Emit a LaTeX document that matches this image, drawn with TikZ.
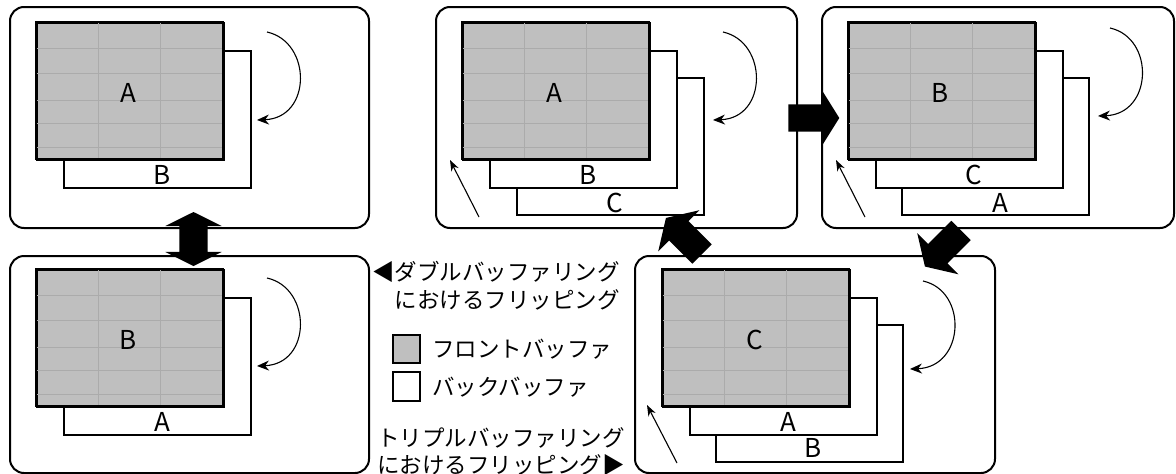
\documentclass[tikz,border=0pt]{standalone}
\usepackage{fontspec}
\setmainfont{Noto Sans CJK JP}
\usetikzlibrary{arrows.meta,shapes.arrows}
\tikzset{
  panel/.style={draw, line width=2pt, rounded corners=14pt, inner sep=0pt},
  frontbuf/.style={draw, line width=2pt, fill=black!25, minimum width=187pt, minimum height=137pt, inner sep=0pt, anchor=north west},
  backbuf/.style={draw, line width=2pt, fill=white, minimum width=187pt, minimum height=137pt, inner sep=0pt, anchor=north west},
  lbl/.style={font=\fontsize{26}{26}\selectfont, inner sep=0pt},
  jtxt/.style={font=\fontsize{22.5}{27}\selectfont, inner sep=0pt},
  bigarrow/.style={single arrow, fill=black, draw=none, minimum height=51pt, inner xsep=0pt, inner ysep=13.5pt, single arrow head extend=15.5pt, single arrow tip angle=116},
  fliparrow/.style={line width=1.1pt, -{Stealth[length=12pt,width=10pt]}},
  thinarrow/.style={line width=1.1pt, -{Stealth[length=11pt,width=8pt]}},
  gridline/.style={black!33, line width=0.5pt}
}
\newcommand\fgrid{%
  \foreach \gx in {62,124} \draw[gridline] (\gx,1) -- (\gx,136);
  \foreach \gy in {26,51,78,101,125} \draw[gridline] (1,\gy) -- (186,\gy);
}
\begin{document}
\begin{tikzpicture}[x=1pt,y=-1pt]
\useasboundingbox (0,0) rectangle (1176,474);

% ---------- Panel 1 (double, A front) ----------
\node[panel, minimum width=359pt, minimum height=221pt] (p1) at (189.5,117.5) {};
\begin{scope}[shift={(36,22)}]
  \node[backbuf] (p1b1) at (27,27.5) {};
  \node[lbl] (p1lb1) at (126,153) {B};
  \node[frontbuf] (p1f) at (0,0) {};
  \fgrid
  \draw[line width=2pt] (0,0) rectangle (187,137);
  \node[lbl] (p1lf) at (92.5,70.5) {A};
  \coordinate (p1s) at (231,10); \coordinate (p1e) at (221,98);
  \draw[fliparrow] (p1s) .. controls +(45,10) and +(55,-2) .. (p1e);
\end{scope}

% ---------- Panel 3 (double, B front) ----------
\node[panel, minimum width=359pt, minimum height=217pt] (p3) at (189.5,364.5) {};
\begin{scope}[shift={(36,269)}]
  \node[backbuf] (p3b1) at (27,27.5) {};
  \node[lbl] (p3lb1) at (126,153) {A};
  \node[frontbuf] (p3f) at (0,0) {};
  \fgrid
  \draw[line width=2pt] (0,0) rectangle (187,137);
  \node[lbl] (p3lf) at (92.5,70.5) {B};
  \coordinate (p3s) at (231,9); \coordinate (p3e) at (221,97);
  \draw[fliparrow] (p3s) .. controls +(45,10) and +(55,-2) .. (p3e);
\end{scope}

% ---------- Panel 2 (triple, A front) ----------
\node[panel, minimum width=361pt, minimum height=221pt] (p2) at (616.5,117.5) {};
\begin{scope}[shift={(462,22)}]
  \node[backbuf] (p2b2) at (54,55) {};
  \node[lbl] (p2lb2) at (153,180.5) {C};
  \node[backbuf] (p2b1) at (27,27.5) {};
  \node[lbl] (p2lb1) at (126,153) {B};
  \node[frontbuf] (p2f) at (0,0) {};
  \fgrid
  \draw[line width=2pt] (0,0) rectangle (187,137);
  \node[lbl] (p2lf) at (92.5,70.5) {A};
  \coordinate (p2s) at (261,10); \coordinate (p2e) at (251,98);
  \draw[fliparrow] (p2s) .. controls +(45,10) and +(55,-2) .. (p2e);
  \coordinate (p2a0) at (17,195); \coordinate (p2a1) at (-12,138);
  \draw[thinarrow] (p2a0) -- (p2a1);
\end{scope}

% ---------- Panel 4 (triple, B front) ----------
\node[panel, minimum width=352pt, minimum height=221pt] (p4) at (998,117.5) {};
\begin{scope}[shift={(848,22)}]
  \node[backbuf] (p4b2) at (53,55) {};
  \node[lbl] (p4lb2) at (152,180.5) {A};
  \node[backbuf] (p4b1) at (27,27.5) {};
  \node[lbl] (p4lb1) at (126,153) {C};
  \node[frontbuf] (p4f) at (0,0) {};
  \fgrid
  \draw[line width=2pt] (0,0) rectangle (187,137);
  \node[lbl] (p4lf) at (92.5,70.5) {B};
  \coordinate (p4s) at (262,6); \coordinate (p4e) at (250,94);
  \draw[fliparrow] (p4s) .. controls +(45,10) and +(55,-2) .. (p4e);
  \coordinate (p4a0) at (17,195); \coordinate (p4a1) at (-12,138);
  \draw[thinarrow] (p4a0) -- (p4a1);
\end{scope}

% ---------- Panel 5 (triple, C front) ----------
\node[panel, minimum width=360pt, minimum height=217pt] (p5) at (815,364.5) {};
\begin{scope}[shift={(662,269)}]
  \node[backbuf] (p5b2) at (53,55) {};
  \node[lbl] (p5lb2) at (151,179) {B};
  \node[backbuf] (p5b1) at (27,27.5) {};
  \node[lbl] (p5lb1) at (126,153) {A};
  \node[frontbuf] (p5f) at (0,0) {};
  \fgrid
  \draw[line width=2pt] (0,0) rectangle (187,137);
  \node[lbl] (p5lf) at (92.5,70.5) {C};
  \coordinate (p5s) at (261,12); \coordinate (p5e) at (248,100);
  \draw[fliparrow] (p5s) .. controls +(45,10) and +(55,-2) .. (p5e);
  \coordinate (p5a0) at (15,194); \coordinate (p5a1) at (-15,136);
  \draw[thinarrow] (p5a0) -- (p5a1);
\end{scope}

% ---------- Big arrows ----------
\node[double arrow, fill=black, draw=none, minimum height=54pt, inner xsep=0pt, inner ysep=14pt,
      double arrow head extend=14pt, double arrow tip angle=127, rotate=90] (m0) at (193.5,239) {};
\node[bigarrow, rotate=0] (m1) at (809.5,118) {};
\node[bigarrow, rotate=225] (m2) at (946,245.5) {};
\node[bigarrow, rotate=135] (m3) at (687,239) {};

% ---------- Legend ----------
\node[jtxt, anchor=east] (t1) at (620,272) {◀ダブルバッファリング};
\node[jtxt, anchor=east] (t2) at (620,300) {におけるフリッピング};
\node[draw, line width=2pt, fill=black!25, minimum width=27pt, minimum height=28pt, inner sep=0pt] (k1) at (406.5,349) {};
\node[draw, line width=2pt, minimum width=27pt, minimum height=29pt, inner sep=0pt] (k2) at (406.5,386.5) {};
\node[jtxt, anchor=west] (t3) at (432,349) {フロントバッファ};
\node[jtxt, anchor=west] (t4) at (432,387) {バックバッファ};
\node[jtxt, anchor=west] (t5) at (377,438) {トリプルバッファリング};
\node[jtxt, anchor=west] (t6) at (377,465) {におけるフリッピング▶};
\end{tikzpicture}
\end{document}
